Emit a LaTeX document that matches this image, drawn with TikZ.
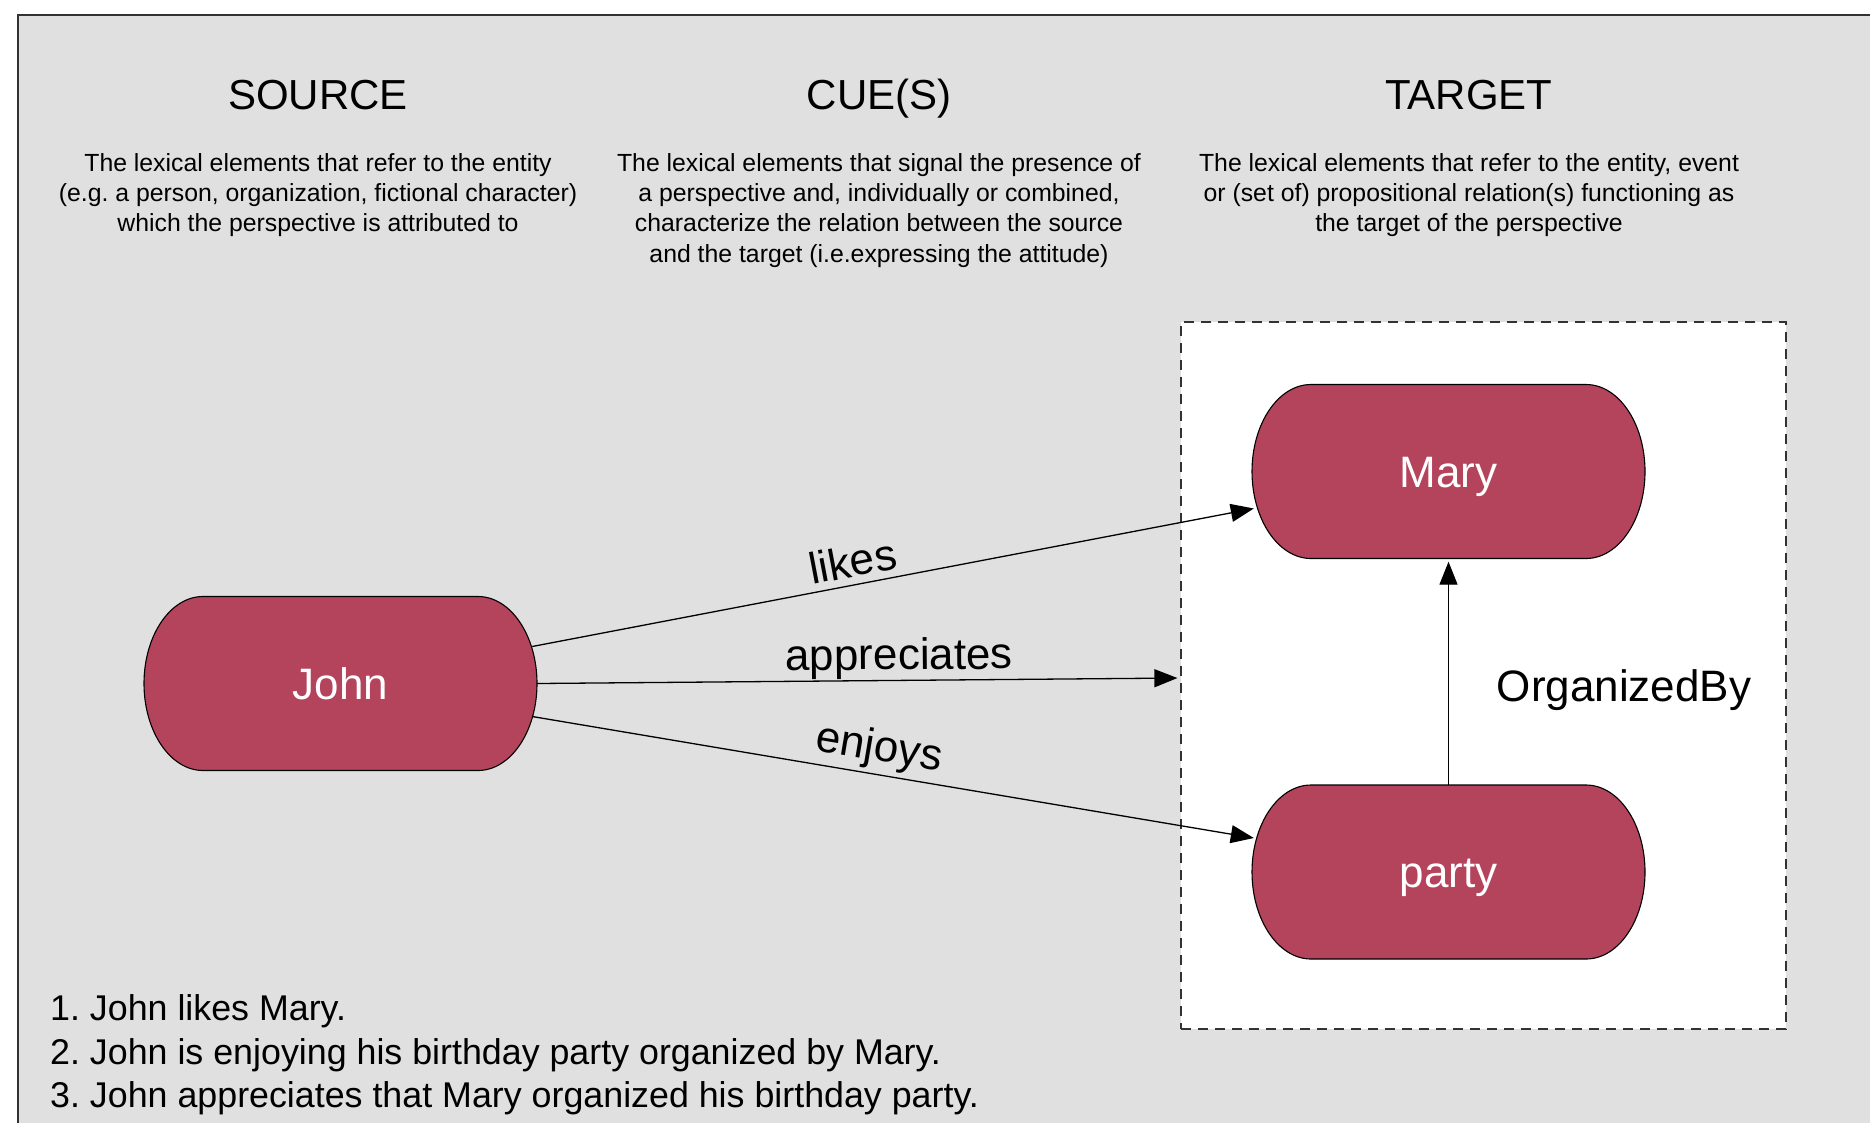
\documentclass[tikz,border=0pt]{standalone}
\usepackage{fontspec}
\setmainfont{Liberation Sans}
\usetikzlibrary{arrows.meta,calc}
\frenchspacing
\definecolor{bggray}{RGB}{224,224,224}
\definecolor{pillred}{RGB}{180,67,92}
\definecolor{framegray}{RGB}{50,50,50}
\newcommand\pillat[1]{%
  \filldraw[fill=pillred, draw=black, line width=1.1pt]
    ($(#1)+(-137.5,-87)$) -- ($(#1)+(137.5,-87)$)
    arc[start angle=90, end angle=-90, x radius=59pt, y radius=87pt]
    -- ($(#1)+(-137.5,87)$)
    arc[start angle=270, end angle=90, x radius=59pt, y radius=87pt] -- cycle;}
\begin{document}
\begin{tikzpicture}[x=1pt,y=-1pt,
  heading/.style={font=\fontsize{42}{50}\selectfont, anchor=base, inner sep=0pt},
  desc/.style={font=\fontsize{24.8}{30.3}\selectfont, align=center, anchor=north, inner sep=0pt},
  pillnode/.style={minimum width=393pt, minimum height=174pt, inner sep=0pt, text=white,
    text height=31.5pt, text depth=0pt, font=\fontsize{44}{50}\selectfont},
  conn/.style={line width=1.3pt, -{Triangle[length=23pt,width=18pt]}},
  elabel/.style={font=\fontsize{44}{50}\selectfont, sloped, above},
  sent/.style={font=\fontsize{35.8}{43}\selectfont, anchor=base west, inner sep=0pt},
  targetbox/.style={draw=framegray, line width=1.2pt, dash pattern=on 10pt off 7pt,
    fill=white, minimum width=605pt, minimum height=707pt, inner sep=0pt},
]
\clip (0,0) rectangle (1870,1122);
\useasboundingbox (0,0) rectangle (1870,1122);
\fill[white] (0,0) rectangle (1870,1122);
\draw[fill=bggray, draw=framegray, line width=1.3pt] (18,15) rectangle (1900,1160);

% headings
\node[heading] (hsrc) at (318,109) {SOURCE};
\node[heading] (hcue) at (879,109) {CUE(S)};
\node[heading] (htgt) at (1469,109) {TARGET};

% descriptions
\node[desc] (dsrc) at (318,153) {The lexical elements that refer to the entity\\(e.g. a person, organization, fictional character)\\which the perspective is attributed to};
\node[desc] (dcue) at (879,153) {The lexical elements that signal the presence of\\a perspective and, individually or combined,\\characterize the relation between the source\\and the target (i.e.expressing the attitude)};
\node[desc] (dtgt) at (1469,153) {The lexical elements that refer to the entity, event\\or (set of) propositional relation(s) functioning as\\the target of the perspective};

% target box
\node[targetbox] (T) at (1483.5,675.5) {};

% pills
\coordinate (Jc) at (340.5,683.5);
\coordinate (Mc) at (1448.5,471.5);
\coordinate (Pc) at (1448.5,872);
\pillat{Jc}
\pillat{Mc}
\pillat{Pc}
\node[pillnode] (J) at (Jc) {John};
\node[pillnode] (M) at (Mc) {Mary};
\node[pillnode] (P) at (Pc) {party};

% connectors
\draw[conn] ([xshift=-5pt,yshift=37pt]J.east) -- node[elabel, pos=0.45, inner sep=7pt] {likes} ([xshift=2pt,yshift=-37pt]M.west);
\draw[conn, shorten >=3pt] (J.east) -- node[elabel, pos=0.563, inner sep=1pt] {appreciates} ([yshift=-2.5pt]T.west);
\draw[conn] ([xshift=-5pt,yshift=-33pt]J.east) -- node[elabel, pos=0.475, inner sep=4pt] {enjoys} ([xshift=2pt,yshift=34pt]P.west);
\draw[conn, shorten >=3pt] (P.north) -- (M.south);
\node[font=\fontsize{44}{50}\selectfont, anchor=base, inner sep=0pt] (org) at (1624,701) {OrganizedBy};

% sentences
\node[sent] (s1) at (50,1020.5) {1. John likes Mary.};
\node[sent] (s2) at (50,1064) {2. John is enjoying his birthday party organized by Mary.};
\node[sent] (s3) at (50,1107.5) {3. John appreciates that Mary organized his birthday party.};
\end{tikzpicture}
\end{document}
